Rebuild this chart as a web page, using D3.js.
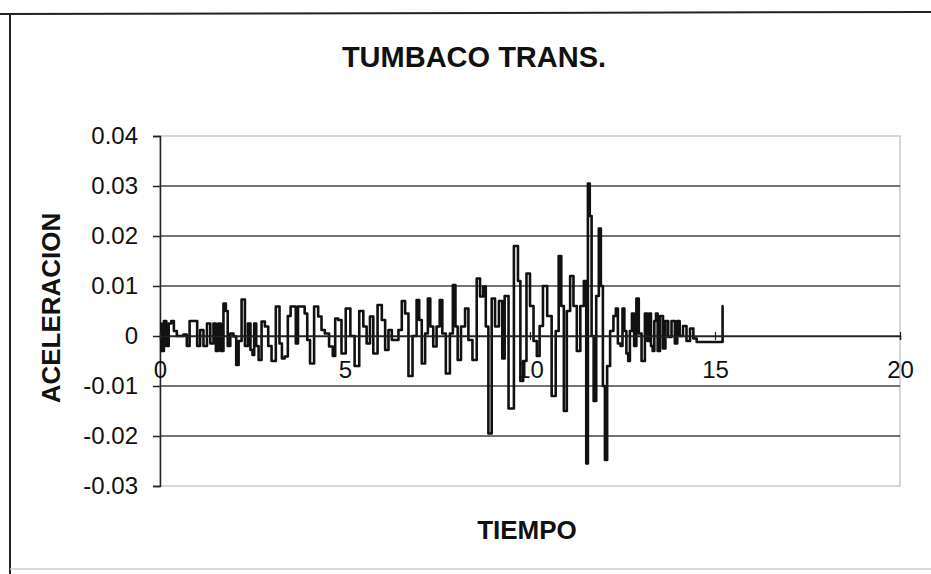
<!DOCTYPE html>
<html>
<head>
<meta charset="utf-8">
<script src="https://cdn.jsdelivr.net/npm/d3@7/dist/d3.min.js"></script>
<style>
  html, body { margin: 0; padding: 0; background: #fff; }
  svg { display: block; }
  text { font-family: "Liberation Sans", Arial, Helvetica, sans-serif; fill: #111; }
</style>
</head>
<body>
<svg id="chart" width="931" height="574"></svg>
<script>
// Acelerograma Tumbaco, componente transversal
const tiempo = [
  0.00, 0.07, 0.14, 0.20, 0.27, 0.34, 0.41, 0.50, 0.59, 0.68, 0.77, 0.83, 0.97,
  1.04, 1.13, 1.22, 1.32, 1.40, 1.49, 1.53, 1.62, 1.67, 1.76, 1.80, 1.86, 1.94,
  2.03, 2.09, 2.16, 2.25, 2.34, 2.41, 2.48, 2.52, 2.57, 2.63, 2.70, 2.79, 2.88, 2.97,
  3.06, 3.20, 3.26, 3.33, 3.41, 3.50, 3.56, 3.65, 3.69, 3.77, 3.87, 3.95,
  4.01, 4.10, 4.23, 4.32, 4.41, 4.50, 4.64, 4.70, 4.77, 4.86, 4.95,
  5.09, 5.20, 5.32, 5.45, 5.54, 5.63, 5.72, 5.81, 5.95,
  6.04, 6.13, 6.22, 6.31, 6.40, 6.49, 6.58, 6.67, 6.76, 6.89, 6.98,
  7.03, 7.12, 7.21, 7.27, 7.34, 7.43, 7.52, 7.60, 7.66, 7.79, 7.88, 7.95,
  8.02, 8.07, 8.20, 8.29, 8.38, 8.51, 8.61, 8.69, 8.78, 8.83, 8.92,
  9.01, 9.10, 9.22, 9.28, 9.35, 9.49, 9.64, 9.71, 9.77, 9.86, 9.95,
  10.05, 10.14, 10.23, 10.29, 10.41, 10.52, 10.65, 10.74, 10.81, 10.88, 10.95,
  11.04, 11.13, 11.22, 11.31, 11.41, 11.50, 11.54, 11.59, 11.64, 11.69, 11.75, 11.83, 11.89, 11.94,
  12.00, 12.05, 12.12, 12.21, 12.30, 12.34, 12.41, 12.48, 12.52, 12.58, 12.63, 12.68, 12.72, 12.79, 12.84, 12.91, 12.97,
  13.06, 13.15, 13.20, 13.25, 13.29, 13.34, 13.38, 13.43, 13.47, 13.56, 13.63, 13.69, 13.78, 13.87, 13.96,
  14.00, 14.09, 14.18, 14.28, 14.37, 14.46, 14.55,
  15.14, 15.18, 15.23
];

const aceleracion = [
  0.0025, -0.003, 0.003, -0.002, 0.0025, 0.003, 0.001, 0.0, 0.0, 0.0003, -0.002, 0.003, 0.003,
  -0.002, 0.0012, -0.002, 0.0025, -0.0015, 0.0025, -0.003, 0.0025, -0.003, 0.0065, 0.005, -0.002, 0.0005,
  -0.0001, -0.0058, -0.001, 0.0073, -0.002, 0.0025, -0.0028, -0.0038, 0.0025, -0.002, -0.0048, 0.0029, 0.0019, -0.002,
  -0.005, 0.0059, -0.0015, -0.0045, -0.0041, 0.004, 0.0059, 0.0059, -0.0015, 0.0059, 0.0059, 0.0045,
  -0.0008, -0.0055, 0.0059, 0.0039, 0.0012, 0.0005, -0.0021, -0.004, 0.0035, 0.0032, -0.0035,
  0.0055, 0.0, -0.006, 0.005, 0.0019, -0.0015, 0.0039, -0.0035, 0.0062,
  0.0032, -0.0028, 0.0012, -0.0008, -0.0008, 0.0012, 0.007, 0.0045, -0.008, 0.0, 0.0072,
  0.0032, -0.0055, 0.0005, 0.0075, 0.0019, -0.0021, 0.0019, 0.0072, 0.0005, -0.0075, 0.0005, 0.0102,
  0.0019, -0.0048, 0.0019, 0.0055, -0.0008, -0.0048, 0.0115, 0.0079, 0.0099, 0.0019, -0.0195,
  0.0075, 0.0019, 0.007, -0.0045, 0.008, -0.0145, 0.018, 0.011, -0.009, -0.005, 0.0125,
  0.006, -0.001, -0.004, 0.002, 0.01, 0.004, -0.012, 0.001, 0.016, 0.006, -0.015,
  0.005, 0.012, 0.006, -0.003, 0.006, 0.011, -0.0255, 0.0305, 0.024, 0.0, -0.013, 0.008, 0.0215, 0.01,
  -0.01, -0.0248, -0.006, 0.001, 0.004, 0.0055, -0.0015, -0.002, 0.0055, 0.001, -0.0035, -0.005, 0.001, 0.0045, -0.002, 0.0075, 0.0005,
  -0.005, 0.0045, -0.001, 0.0045, -0.002, -0.003, 0.003, 0.0045, -0.003, 0.004, -0.0025, 0.003, -0.0002, 0.003, -0.0015,
  0.003, 0.0, 0.002, -0.001, 0.0015, -0.0005, -0.0012,
  -0.0012, -0.0012, 0.006
];

const xTicks = [0, 5, 10, 15, 20];
const yTicks = [0.04, 0.03, 0.02, 0.01, 0, -0.01, -0.02, -0.03];

const titulo = "TUMBACO TRANS.";
const tituloX = "TIEMPO";
const tituloY = "ACELERACION";

const svg = d3.select("#chart");

// marco exterior del gráfico
svg.append("line").attr("x1", 0).attr("y1", 14).attr("x2", 931).attr("y2", 12)
  .attr("stroke", "#222").attr("stroke-width", 2);
svg.append("line").attr("x1", 10).attr("y1", 13).attr("x2", 10).attr("y2", 574)
  .attr("stroke", "#222").attr("stroke-width", 2);
svg.append("line").attr("x1", 10).attr("y1", 569).attr("x2", 931).attr("y2", 569)
  .attr("stroke", "#ccc").attr("stroke-width", 1.5);

const plot = { left: 160, right: 900, top: 136, bottom: 486 };

const x = d3.scaleLinear().domain([0, 20]).range([plot.left, plot.right]);
const y = d3.scaleLinear().domain([-0.03, 0.04]).range([plot.bottom, plot.top]);

// borde del área de trazado
svg.append("rect")
  .attr("x", plot.left).attr("y", plot.top)
  .attr("width", plot.right - plot.left).attr("height", plot.bottom - plot.top)
  .attr("fill", "none").attr("stroke", "#bbb").attr("stroke-width", 1.2);

// líneas de división principales
svg.append("g")
  .selectAll("line")
  .data(yTicks.filter(v => v < 0.04 && v > -0.03))
  .join("line")
  .attr("x1", plot.left).attr("x2", plot.right)
  .attr("y1", d => y(d)).attr("y2", d => y(d))
  .attr("stroke", "#444").attr("stroke-width", 1.5);

// formato con guion simple para los negativos
const fmtY = d => d === 0 ? "0" : d3.format(".2f")(d).replace("\u2212", "-");

// eje Y
const yAxis = d3.axisLeft(y).tickValues(yTicks).tickSize(7).tickPadding(15)
  .tickFormat(fmtY);
const gy = svg.append("g").attr("transform", `translate(${plot.left},0)`).call(yAxis);
gy.select(".domain").attr("stroke", "#222").attr("stroke-width", 1.5);
gy.selectAll(".tick line").attr("stroke", "#222").attr("stroke-width", 1.5);
gy.selectAll(".tick text").attr("font-size", 24).attr("fill", "#111")
  .style("font-family", "'Liberation Sans', Arial, sans-serif");

// serie
const linea = d3.line()
  .x((d, i) => x(tiempo[i]))
  .y(d => y(d))
  .curve(d3.curveStep);
svg.append("path")
  .datum(aceleracion)
  .attr("d", linea)
  .attr("fill", "none")
  .attr("stroke", "#111")
  .attr("stroke-width", 2.6)
  .attr("stroke-linejoin", "round");

// eje X sobre la línea de cero
const xAxis = d3.axisBottom(x).tickValues(xTicks).tickSize(4).tickPadding(21)
  .tickFormat(d3.format("d"));
const gx = svg.append("g").attr("transform", `translate(0,${y(0)})`).call(xAxis);
gx.select(".domain").attr("stroke", "#222").attr("stroke-width", 1.5);
gx.selectAll(".tick line").attr("stroke", "#222").attr("stroke-width", 1.2).attr("y1", -4);
gx.selectAll(".tick text").attr("font-size", 24).attr("fill", "#111")
  .style("font-family", "'Liberation Sans', Arial, sans-serif");

// títulos
svg.append("text")
  .attr("x", 474).attr("y", 67)
  .attr("text-anchor", "middle")
  .attr("font-size", 29).attr("font-weight", "bold")
  .text(titulo);

svg.append("text")
  .attr("x", 527).attr("y", 539)
  .attr("text-anchor", "middle")
  .attr("font-size", 26).attr("font-weight", "bold")
  .text(tituloX);

svg.append("text")
  .attr("transform", "translate(60,308) rotate(-90)")
  .attr("text-anchor", "middle")
  .attr("font-size", 26).attr("font-weight", "bold")
  .text(tituloY);
</script>
</body>
</html>
